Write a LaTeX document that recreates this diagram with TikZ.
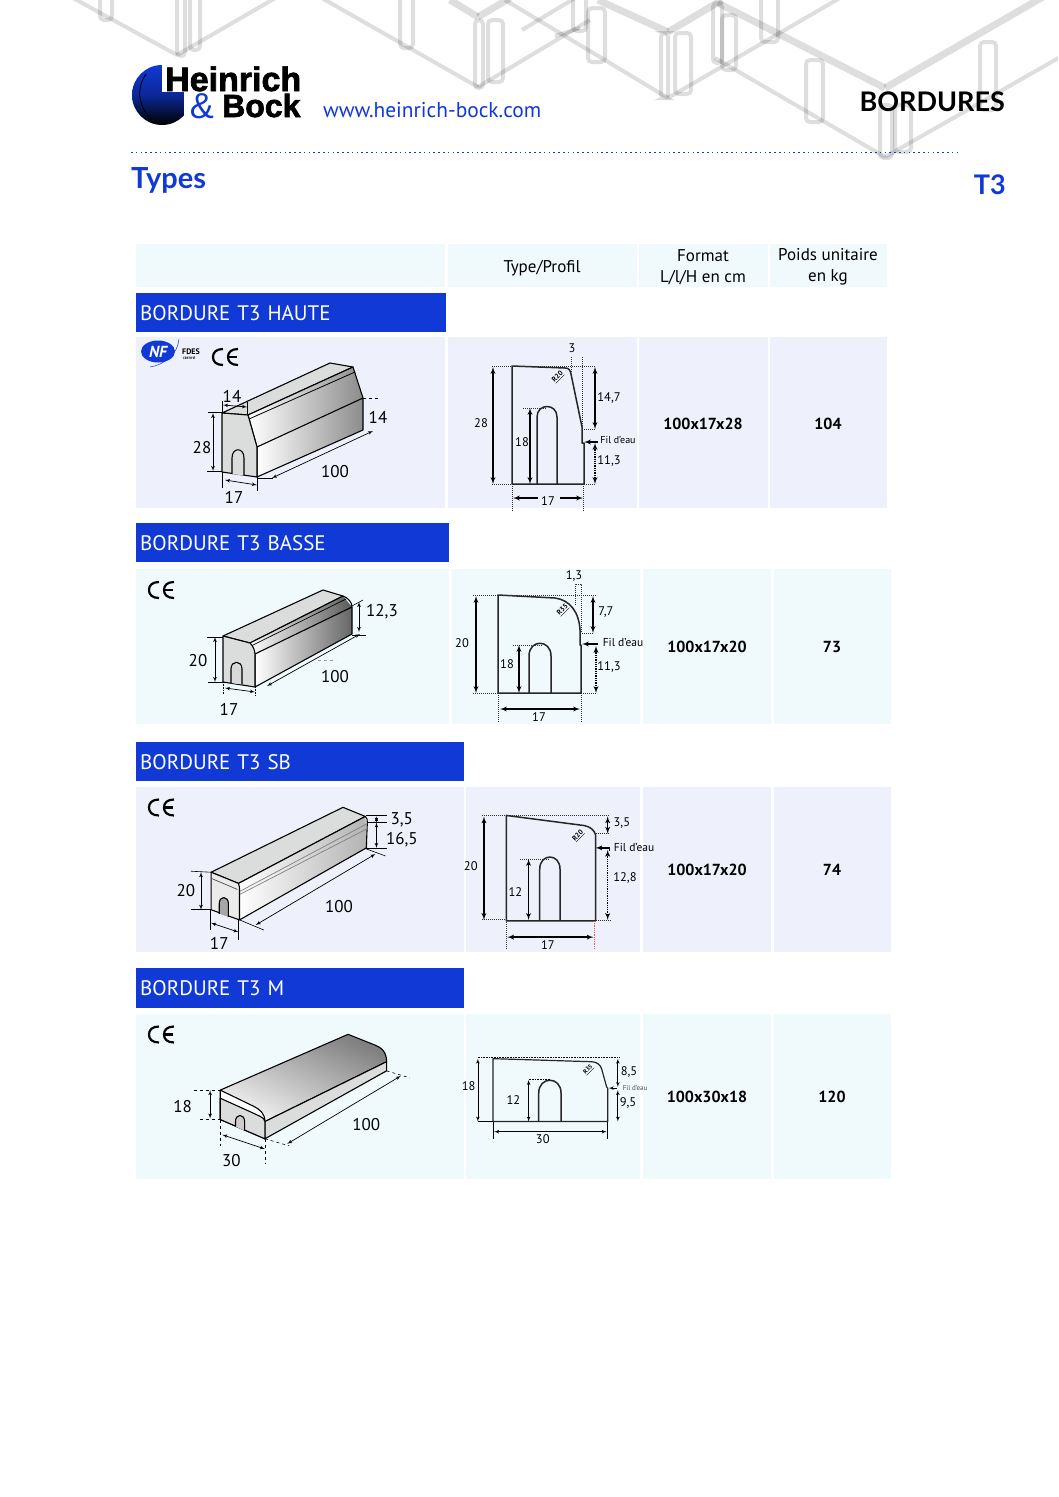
\documentclass[tikz,border=0pt]{standalone}
\usepackage{fontspec}
\setmainfont{PT Sans}
\newfontfamily\headfont{Lato}
\newfontfamily\logofont[BoldFeatures={FakeBold=2}]{Liberation Sans}
\usetikzlibrary{shapes, arrows}
\newcommand{\fsz}[1]{\fontsize{#1}{#1}\selectfont}
\definecolor{hbblue}{HTML}{1039D6}
\definecolor{rowlav}{HTML}{EEF1FB}
\definecolor{rowcyan}{HTML}{F0FAFC}
\definecolor{facegray}{HTML}{DADDDB}
\tikzstyle{bgline} = [draw=black, draw opacity=0.13, line width=4]
\tikzstyle{bgthick} = [draw=black, draw opacity=0.13, line width=7]
\tikzstyle{cell} = [rectangle, anchor=north west, inner sep=0]
\tikzstyle{headlbl} = [inner sep=0, align=center, font=\fsz{17}]
\tikzstyle{vallbl} = [inner sep=0, font=\bfseries\fsz{16}]
\tikzstyle{bar} = [rectangle, anchor=north west, inner sep=0, fill=hbblue, text=white, font=\fsz{21}, align=left]
\tikzstyle{edge} = [draw=black, line width=1.1, line join=round]
\tikzstyle{prof} = [draw=black!85, line width=1.5, line join=round]
\tikzstyle{dimline} = [draw, <->, >=latex', line width=0.7]
\tikzstyle{pdim} = [draw, <->, >=latex', line width=1.3]
\tikzstyle{pdot} = [draw, <->, >=latex', line width=1.3, densely dotted]
\tikzstyle{ext} = [draw, line width=0.6]
\tikzstyle{dotext} = [draw=black!80, line width=1, densely dotted]
\tikzstyle{isolbl} = [inner sep=0, font=\fsz{17}]
\tikzstyle{proflbl} = [inner sep=0, font=\fsz{12.5}]
\tikzstyle{fillbl} = [inner sep=0, font=\fsz{10}]
\tikzstyle{radlbl} = [inner sep=0.5, rotate=45, font=\bfseries\fsz{7}]
\tikzset{cemark/.pic={
    \draw[line width=2.2] (11,0.5) .. controls (4,0.5) and (1,4) .. (1,8.5) .. controls (1,13) and (4,16.5) .. (11,16.5);
    \draw[line width=2.2] (26,0.5) .. controls (19,0.5) and (16,4) .. (16,8.5) .. controls (16,13) and (19,16.5) .. (26,16.5);
    \draw[line width=2.2] (16.5,8.5) -- (25,8.5);
}}
\begin{document}
\begin{tikzpicture}[x=1pt, y=-1pt]
    \useasboundingbox (0,0) rectangle (1058,1497);
    \fill[white] (0,0) rectangle (1058,1497);

    % background pattern
    \begin{scope}
    \clip (0,0) rectangle (1058,1497);
    \foreach \xa/\ya/\xb/\yb in {73/-2/177/55, 177/55/284/-7, 320/-3/478/87, 478/87/590/20, 505/0/668/98,
        668/98/845/-5, 555/36/580/28, 715/58/885/157, 885/157/1062/56, 580/-5/522/30}
        \draw[bgline] (\xa,\ya) -- (\xb,\yb);
    \foreach \xa/\ya/\xb/\yb in {450/0/478/17, 478/17/510/-2, 598/0/668/32, 668/32/722/0, 718/3/885/88, 885/88/1062/-14}
        \draw[bgthick] (\xa,\ya) -- (\xb,\yb);
    \foreach \xa/\xb/\ya/\yb in {100/112/-8/20, 177/185/-8/56, 190/200/-8/50, 400/413/-8/48, 475/483/20/88, 488/503/20/82,
        573/586/-8/31, 588/605/8/62, 661/668/33/98, 675/691/33/94, 713/722/3/63, 722/736/15/70, 761/778/-8/42,
        806/823/60/122, 880/892/105/158, 895/911/105/152, 980/996/42/110}
        \draw[bgline, rounded corners=4] (\xa,\ya) rectangle (\xb,\yb);
    \end{scope}

    % logo
    \shade[top color=hbblue, bottom color=black, middle color=hbblue!70!black] (162,95) circle [radius=30];
    \fill[white] (162,60) rectangle (205,92);
    \fill[white] (184,92) rectangle (205,130);
    \draw[black, line width=0.8] (146,74) .. controls (136,88) and (138,108) .. (152,119);
    \node[inner sep=0, anchor=base west, font=\logofont\bfseries\fsz{34}] (heinrich) at (165,91) {Heinrich};
    \node[inner sep=0, anchor=base west, font=\logofont\bfseries\fsz{32}] (bock) at (222,117) {Bock};
    \node[inner sep=0, anchor=base, text=hbblue, font=\logofont\fsz{36}] (amper) at (202,118) {\&};
    \node[inner sep=0, anchor=base west, text=hbblue, font=\fsz{21.4}] (url) at (323,117) {www.heinrich-bock.com};

    % page heads
    \node[inner sep=0, anchor=base east, font=\headfont\bfseries\fsz{27}] (bordures) at (1005,111) {BORDURES};
    \draw[hbblue, line width=1.6, dash pattern=on 1.6 off 3.2] (131,152.5) -- (960,152.5);
    \node[inner sep=0, anchor=base west, text=hbblue, font=\headfont\bfseries\fsz{29}] (types) at (131,188) {Types};
    \node[inner sep=0, anchor=base east, text=hbblue, font=\headfont\bfseries\fsz{27}] (t3) at (1006,194) {T3};

    % table head
    \node[cell, fill=rowcyan, minimum width=309, minimum height=43] (headA) at (136,244) {};
    \node[cell, fill=rowcyan, minimum width=189, minimum height=43] (headB) at (448,244) {};
    \node[cell, fill=rowcyan, minimum width=129, minimum height=43] (headC) at (639,244) {};
    \node[cell, fill=rowcyan, minimum width=117, minimum height=43] (headD) at (770,244) {};
    \node[headlbl] (colB) at (542,268) {Type/Profil};
    \node[headlbl] (colC) at (703,267) {Format\\[4pt]L/l/H en cm};
    \node[headlbl] (colD) at (828,267) {Poids unitaire\\[4pt]en kg};

    % row cells
    \node[bar, minimum width=310, minimum height=39, text width=306] (barA) at (136,293) {\hspace*{2pt}BORDURE T3 HAUTE};
    \node[cell, fill=rowlav, minimum width=309, minimum height=171] (rowAa) at (136,337) {};
    \node[cell, fill=rowlav, minimum width=189, minimum height=171] (rowAb) at (448,337) {};
    \node[cell, fill=rowlav, minimum width=129, minimum height=171] (rowAc) at (639,337) {};
    \node[cell, fill=rowlav, minimum width=117, minimum height=171] (rowAd) at (770,337) {};
    \node[vallbl] (valAc) at (703,424) {100x17x28};
    \node[vallbl] (valAd) at (828,424) {104};

    \node[bar, minimum width=313, minimum height=39, text width=309] (barB) at (136,523) {\hspace*{2pt}BORDURE T3 BASSE};
    \node[cell, fill=rowcyan, minimum width=313, minimum height=155] (rowBa) at (136,569) {};
    \node[cell, fill=rowcyan, minimum width=188, minimum height=155] (rowBb) at (452,569) {};
    \node[cell, fill=rowcyan, minimum width=128, minimum height=155] (rowBc) at (643,569) {};
    \node[cell, fill=rowcyan, minimum width=117, minimum height=155] (rowBd) at (774,569) {};
    \node[vallbl] (valBc) at (707,647) {100x17x20};
    \node[vallbl] (valBd) at (832,647) {73};

    \node[bar, minimum width=328, minimum height=39, text width=324] (barC) at (136,742) {\hspace*{2pt}BORDURE T3 SB};
    \node[cell, fill=rowlav, minimum width=328, minimum height=165] (rowCa) at (136,787) {};
    \node[cell, fill=rowlav, minimum width=174, minimum height=165] (rowCb) at (466,787) {};
    \node[cell, fill=rowlav, minimum width=128, minimum height=165] (rowCc) at (643,787) {};
    \node[cell, fill=rowlav, minimum width=117, minimum height=165] (rowCd) at (774,787) {};
    \node[vallbl] (valCc) at (707,870) {100x17x20};
    \node[vallbl] (valCd) at (832,870) {74};

    \node[bar, minimum width=328, minimum height=40, text width=324] (barD) at (136,968) {\hspace*{2pt}BORDURE T3 M};
    \node[cell, fill=rowcyan, minimum width=328, minimum height=165] (rowDa) at (136,1014) {};
    \node[cell, fill=rowcyan, minimum width=174, minimum height=165] (rowDb) at (466,1014) {};
    \node[cell, fill=rowcyan, minimum width=128, minimum height=165] (rowDc) at (643,1014) {};
    \node[cell, fill=rowcyan, minimum width=117, minimum height=165] (rowDd) at (774,1014) {};
    \node[vallbl] (valDc) at (707,1097) {100x30x18};
    \node[vallbl] (valDd) at (832,1097) {120};

    % marks
    \fill[hbblue] (158,351.5) ellipse [x radius=17, y radius=11];
    \node[inner sep=0, text=white, font=\bfseries\itshape\fsz{16}] (nf) at (158,352) {NF};
    \draw[hbblue, line width=0.5] (179,339) .. controls (178,354) and (164,365) .. (150,367);
    \node[inner sep=0, anchor=west, font=\bfseries\fsz{8}] (fdes) at (182,352) {FDES};
    \node[inner sep=0, anchor=west, font=\bfseries\fsz{3.2}] (certif) at (183,358) {CERTIFIÉ};
    \pic at (212,348.5) {cemark};
    \pic at (148,581.5) {cemark};
    \pic at (148,799) {cemark};
    \pic at (148,1026) {cemark};

    % --- haute, block
    \filldraw[edge, fill=facegray] (330,363) -- (353,367) -- (248,415) -- (222,413) -- cycle;
    \shade[left color=white, right color=black!45] (248,415) -- (353,367) -- (363,398) -- (257,447) -- cycle;
    \shade[left color=white, right color=black!45] (257,447) -- (363,398) -- (363,430) -- (257,477) -- cycle;
    \draw[edge] (248,415) -- (353,367) -- (363,398) -- (363,430) -- (257,477) -- (257,447) -- cycle;
    \draw[edge] (257,447) -- (363,398);
    \draw[edge, line width=0.8] (249,419) -- (355,372);
    \filldraw[edge, fill=facegray] (222,413) -- (248,415) -- (257,447) -- (257,477) -- (222,472) -- cycle;
    \draw[edge, fill=facegray] (232,474) -- (232,458) .. controls (232,447) and (244,447) .. (244,458) -- (244,475.5);
    \draw[dimline] (223,405) -- (247,407);
    \draw[ext] (222,401) -- (222,413);
    \draw[ext] (247,402) -- (247,414);
    \draw[dimline] (213,413) -- (213,471);
    \draw[ext] (208,412) -- (222,412);
    \draw[ext] (207,471) -- (222,471);
    \draw[ext, dashed] (363,398) -- (379,398);
    \draw[dimline] (272,478) -- (373,431);
    \draw[ext] (257,478) -- (273,478);
    \draw[dimline] (225,480) -- (257,485);
    \draw[ext] (222,472) -- (222,488);
    \draw[ext] (257,477) -- (257,491);
    \node[isolbl] (hA) at (232,396) {14};
    \node[isolbl] (hB) at (202,448) {28};
    \node[isolbl] (hC) at (378,417) {14};
    \node[isolbl] (hD) at (335,472) {100};
    \node[isolbl] (hE) at (234,497) {17};

    % --- haute, profile
    \draw[prof] (512,484) -- (512,366) -- (565,368) .. controls (569,368) and (570,370) .. (571,374) -- (582,427) -- (582,443) -- (584,443) -- (584,484) -- cycle;
    \draw[prof] (537,484) -- (537,417) .. controls (537,403) and (557,403) .. (557,417) -- (557,484);
    \draw[dotext] (492,366) -- (595,366);
    \draw[dotext] (492,484) -- (512,484);
    \draw[dotext] (584,484) -- (596,484);
    \draw[dotext] (571,357) -- (571,372);
    \draw[dotext] (582,357) -- (582,428);
    \draw[dotext] (582,429) -- (595,429);
    \draw[dotext] (523,408) -- (547,408);
    \draw[dotext] (512,484) -- (512,512);
    \draw[dotext] (583,484) -- (583,512);
    \draw[pdim] (493,367) -- (493,484);
    \draw[pdim] (595,367) -- (595,429);
    \draw[pdim] (530,408) -- (530,484);
    \draw[pdot] (595,443) -- (595,484);
    \draw[pdim, <-] (584,442) -- (598,442);
    \draw[pdim, <-] (513,498) -- (538,498);
    \draw[pdim, ->] (560,498) -- (583,498);
    \node[proflbl] (pA) at (481,423) {28};
    \node[proflbl] (pB) at (572,348) {3};
    \node[proflbl] (pC) at (609,398) {14,7};
    \node[proflbl] (pD) at (522,442) {18};
    \node[proflbl] (pE) at (609,461) {11,3};
    \node[proflbl] (pF) at (548,501) {17};
    \node[fillbl] (pG) at (618,440) {Fil d'eau};
    \node[radlbl] (pH) at (558,377) {\underline{R20}};

    % --- basse, block
    \filldraw[edge, fill=facegray] (323,590) -- (343,596) -- (250,643) -- (223,636) -- cycle;
    \shade[left color=white, right color=black!65] (250,643) -- (343,596) -- (352,607) -- (255,655) -- cycle;
    \shade[left color=white, right color=black!60] (255,655) -- (352,607) -- (352,634) -- (255,687) -- cycle;
    \draw[edge] (250,643) -- (343,596) .. controls (348,598) and (352,602) .. (352,607) -- (352,634) -- (255,687) -- (255,655);
    \draw[edge] (255,654) -- (352,607);
    \draw[edge, line width=0.7] (251,646) -- (346,599);
    \filldraw[edge, fill=facegray] (223,636) -- (250,643) .. controls (253,646) and (255,650) .. (255,655) -- (255,687) -- (223,682) -- cycle;
    \draw[edge, fill=white!85!black] (231,683) -- (231,669) .. controls (231,660) and (242,660) .. (242,669) -- (242,684.5);
    \draw[dimline] (215,637) -- (215,682);
    \draw[ext] (207,637) -- (223,637);
    \draw[ext] (208,682) -- (223,682);
    \draw[dimline] (359,602) -- (359,632);
    \draw[ext] (352,606) -- (363,600);
    \draw[ext] (352,635) -- (366,635);
    \draw[dimline] (267,686) -- (360,634);
    \draw[dimline] (225,688) -- (255,692);
    \draw[ext, densely dotted] (223,682) -- (223,694);
    \draw[ext, densely dotted] (255,687) -- (255,696);
    \draw[ext, black!40, dashed] (318,660) -- (336,660);
    \node[isolbl] (hF) at (198,661) {20};
    \node[isolbl] (hG) at (382,612) {12,3};
    \node[isolbl] (hH) at (335,677) {100};
    \node[isolbl] (hI) at (229,709) {17};

    % --- basse, profile
    \draw[prof] (498,693) -- (498,595) -- (555,598) .. controls (570,600) and (579,612) .. (580,630) -- (580,645) -- (581,645) -- (581,693) -- cycle;
    \draw[prof] (529,693) -- (529,656) .. controls (529,639) and (551,639) .. (551,656) -- (551,693);
    \draw[dotext] (473,595) -- (597,595);
    \draw[dotext] (473,693) -- (498,693);
    \draw[dotext] (581,693) -- (597,693);
    \draw[dotext] (575,605) -- (575,584) -- (581,584) -- (581,633);
    \draw[dotext] (580,633) -- (593,633);
    \draw[dotext] (513,645) -- (542,645);
    \draw[dotext] (498,693) -- (498,722);
    \draw[dotext] (581,693) -- (581,722);
    \draw[pdim] (476,596) -- (476,693);
    \draw[pdim] (593,596) -- (593,633);
    \draw[pdim] (519,645) -- (519,693);
    \draw[pdot] (596,646) -- (596,693);
    \draw[pdim, <-] (582,644) -- (598,644);
    \draw[pdim] (500,709) -- (580,709);
    \node[proflbl] (pI) at (462,643) {20};
    \node[proflbl] (pJ) at (574,576) {1,3};
    \node[proflbl] (pK) at (606,612) {7,7};
    \node[proflbl] (pL) at (507,664) {18};
    \node[proflbl] (pM) at (609,667) {11,3};
    \node[proflbl] (pN) at (539,717) {17};
    \node[fillbl, font=\fsz{11.5}] (pO) at (623,642) {Fil d'eau};
    \node[radlbl] (pP) at (563,610) {\underline{R35}};

    % --- sb, block
    \begin{scope}[shift={(130,785)}, scale=1.0142, shift={(-130,-785)}]
    \filldraw[edge, fill=facegray] (340,807) -- (362,816) -- (237,882) -- (210,871) -- cycle;
    \shade[left color=white, right color=black!30] (237,882) -- (362,816) -- (364,847) -- (238,918) -- cycle;
    \draw[edge] (237,882) -- (362,816) .. controls (364,817) and (364,820) .. (364,822) -- (363,847) -- (238,918);
    \draw[draw=black!50, line width=0.7] (238,890) -- (364,823);
    \draw[draw=black!50, line width=0.7] (238,893) -- (364,828);
    \filldraw[edge, fill=black!8] (210,871) -- (237,882) .. controls (238,884) and (238,887) .. (238,890) -- (238,918) -- (210,908) -- cycle;
    \draw[draw=black!70, line width=0.7] (210,877) -- (236,888);
    \filldraw[edge, fill=black!35] (218,912) -- (218,902) .. controls (218,894) and (227,894) .. (227,902) -- (227,915);
    \draw[dimline] (200,871) -- (200,908);
    \draw[ext] (190,870) -- (210,871);
    \draw[ext] (190,908) -- (210,908);
    \draw[dimline] (373,816) -- (373,822);
    \draw[dimline] (373,822) -- (373,847);
    \draw[ext] (363,815) -- (383,815);
    \draw[ext] (364,822) -- (383,822);
    \draw[ext] (363,847) -- (383,847);
    \draw[dimline] (254,923) -- (372,853);
    \draw[ext] (238,918) -- (262,928);
    \draw[ext] (363,848) -- (382,855);
    \draw[dimline] (210,921) -- (237,930);
    \draw[ext] (209,908) -- (209,928);
    \draw[ext] (237,918) -- (237,938);
    \node[isolbl] (hJ) at (185,889) {20};
    \node[isolbl] (hK) at (398,819) {3,5};
    \node[isolbl] (hL) at (398,839) {16,5};
    \node[isolbl] (hM) at (336,905) {100};
    \node[isolbl] (hN) at (218,941) {17};

    % --- sb, profile
    \draw[prof] (501,919) -- (501,815) -- (578,825) .. controls (584,826) and (588,830) .. (589,834) -- (589,919) -- cycle;
    \draw[prof] (534,919) -- (534,868) .. controls (534,852) and (554,852) .. (554,868) -- (554,919);
    \draw[dotext] (477,815) -- (603,815);
    \draw[dotext] (477,918) -- (501,918);
    \draw[dotext] (589,919) -- (604,919);
    \draw[dotext] (589,833) -- (601,833);
    \draw[dotext] (515,858) -- (543,858);
    \draw[dotext] (501,920) -- (501,947);
    \draw[densely dotted, red!70, line width=0.8] (588,919) -- (588,947);
    \draw[pdim] (479,816) -- (479,918);
    \draw[pdim] (601,816) -- (601,833);
    \draw[pdim] (523,858) -- (523,918);
    \draw[pdot] (601,849) -- (601,918);
    \draw[pdim, <-] (589,847) -- (603,847) -- (603,850);
    \draw[pdim] (502,935) -- (587,935);
    \node[proflbl] (pQ) at (466,865) {20};
    \node[proflbl] (pR) at (615,823) {3,5};
    \node[proflbl] (pS) at (618,877) {12,8};
    \node[proflbl] (pT) at (510,891) {12};
    \node[proflbl] (pU) at (542,943) {17};
    \node[fillbl, font=\fsz{11.5}] (pV) at (627,847) {Fil d'eau};
    \node[radlbl] (pW) at (572,835) {\underline{R20}};
    \end{scope}

    % --- m, block
    \begin{scope}[shift={(130,1012)}, scale=1.0142, shift={(-130,-1012)}]
    \shade[top color=black!50, bottom color=black!5, shading angle=-25] (219,1089) -- (345,1034) -- (370,1044) .. controls (378,1047) and (383,1051) .. (383,1061) -- (263,1120) .. controls (263,1112) and (258,1108) .. (252,1105) -- cycle;
    \draw[edge] (219,1089) -- (345,1034) -- (370,1044) .. controls (378,1047) and (383,1051) .. (383,1061) -- (263,1120);
    \filldraw[edge, fill=facegray] (263,1120) -- (383,1061) -- (383,1070) -- (263,1137) -- cycle;
    \filldraw[edge, fill=white] (219,1089) -- (252,1105) .. controls (258,1108) and (263,1112) .. (263,1120) -- (263,1137) -- (219,1118) -- cycle;
    \filldraw[edge, fill=facegray] (219,1097) -- (250,1111) .. controls (256,1114) and (263,1116) .. (263,1120) -- (263,1137) -- (219,1118) -- cycle;
    \filldraw[edge, fill=white!80!black] (234,1125) -- (234,1120) .. controls (234,1112) and (243,1112) .. (243,1120) -- (243,1129);
    \draw[dimline] (209,1089) -- (209,1117);
    \draw[ext, dashed] (193,1089) -- (219,1089);
    \draw[ext, dashed] (199,1118) -- (219,1118);
    \draw[dimline] (285,1142) -- (397,1075);
    \draw[ext, dashed] (263,1137) -- (287,1144);
    \draw[ext, dashed] (383,1070) -- (406,1077);
    \draw[dimline] (221,1133) -- (263,1147);
    \draw[ext, dashed] (219,1118) -- (219,1144);
    \draw[ext, dashed] (263,1137) -- (263,1162);
    \node[isolbl] (hO) at (182,1105) {18};
    \node[isolbl] (hP) at (363,1123) {100};
    \node[isolbl] (hQ) at (230,1158) {30};

    % --- m, profile
    \draw[prof, line width=1.2] (488,1120) -- (488,1058) -- (585,1061) .. controls (590,1061) and (594,1064) .. (595,1068) -- (600,1086) -- (601,1087) -- (601,1120) -- cycle;
    \draw[prof] (533,1120) -- (533,1092) .. controls (533,1075) and (555,1075) .. (555,1092) -- (555,1120);
    \draw[ext, densely dotted] (473,1057) -- (612,1057);
    \draw[ext] (473,1120) -- (488,1120);
    \draw[ext, densely dotted] (523,1078) -- (545,1078);
    \draw[ext] (488,1120) -- (488,1137);
    \draw[ext] (601,1120) -- (601,1137);
    \draw[dimline] (473,1058) -- (473,1120);
    \draw[dimline] (611,1058) -- (611,1086);
    \draw[dimline] (611,1089) -- (611,1120);
    \draw[dimline] (523,1079) -- (523,1120);
    \draw[dimline, <-] (602,1087) -- (610,1087);
    \draw[dimline] (489,1130) -- (600,1130);
    \node[proflbl] (pX) at (464,1085) {18};
    \node[proflbl] (pY) at (622,1071) {8,5};
    \node[proflbl] (pZ) at (621,1102) {9,5};
    \node[proflbl] (pAA) at (508,1099) {12};
    \node[proflbl] (pAB) at (537,1137) {30};
    \node[fillbl, font=\fsz{7}, text=black!70] (pAC) at (628,1087) {Fil d'eau};
    \node[radlbl, font=\bfseries\fsz{6}] (pAD) at (582,1069) {\underline{R35}};
    \end{scope}
\end{tikzpicture}
\end{document}
